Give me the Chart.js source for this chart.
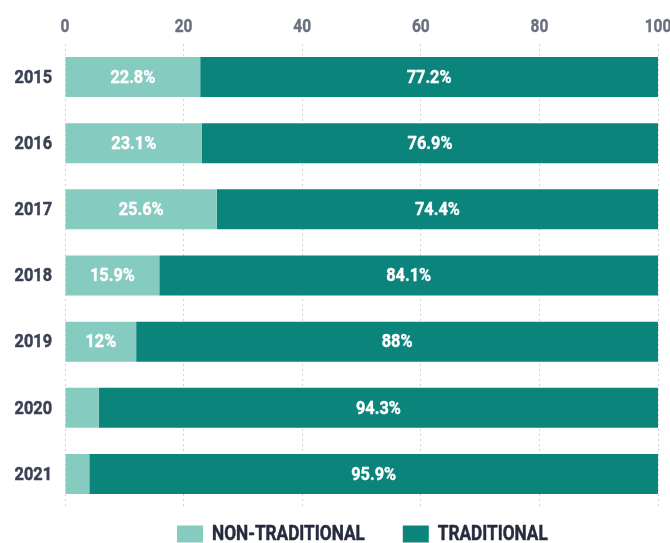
<!DOCTYPE html>
<html>
<head>
<meta charset="utf-8">
<script src="https://cdn.jsdelivr.net/npm/chart.js@4/dist/chart.umd.min.js"></script>
<style>
html,body{margin:0;padding:0;background:#fff;}
#wrap{width:670px;height:543px;position:relative;}
</style>
</head>
<body>
<div id="wrap"><canvas id="c" width="670" height="543"></canvas></div>
<script>
const years = ['2015','2016','2017','2018','2019','2020','2021'];
const nonTraditional = [22.8, 23.1, 25.6, 15.9, 12.0, 5.7, 4.1];
const traditional = [77.2, 76.9, 74.4, 84.1, 88.0, 94.3, 95.9];
const xTicks = [0, 20, 40, 60, 80, 100];
const seriesNames = ['NON-TRADITIONAL', 'TRADITIONAL'];
const seriesColors = ['#86cbbf', '#0b857c'];

const FONT = 'Roboto, "DejaVu Sans", sans-serif';
const SX = 0.86; // horizontal condensing of text

function condensedText(ctx, txt, x, y, align, font, color, heavy) {
  ctx.save();
  ctx.font = font;
  ctx.fillStyle = color;
  ctx.textBaseline = 'middle';
  ctx.textAlign = align;
  ctx.translate(x, y);
  ctx.scale(SX, 1);
  ctx.fillText(txt, 0, 0);
  if (heavy) {
    ctx.strokeStyle = color;
    ctx.lineWidth = heavy;
    ctx.lineJoin = 'round';
    ctx.strokeText(txt, 0, 0);
  }
  ctx.restore();
}
function textWidth(ctx, txt, font) {
  ctx.save(); ctx.font = font; const w = ctx.measureText(txt).width * SX; ctx.restore(); return w;
}

const textPlugin = {
  id: 'texts',
  afterDatasetsDraw(chart) {
    const ctx = chart.ctx;
    const xs = chart.scales.x, ys = chart.scales.y;
    xTicks.forEach(v => {
      condensedText(ctx, String(v), xs.getPixelForValue(v), 27, 'center', 'bold 18px ' + FONT, '#6a7080', 0.4);
    });
    years.forEach((y, i) => {
      condensedText(ctx, y, 52, ys.getPixelForValue(i) + 1, 'right', 'bold 19px ' + FONT, '#3b4254', 0.5);
    });
    chart.data.datasets.forEach((ds, di) => {
      const meta = chart.getDatasetMeta(di);
      meta.data.forEach((el, i) => {
        const v = ds.data[i];
        if (v < 10) return;
        const p = el.getProps(['x', 'y', 'base'], true);
        const cx = (p.x + p.base) / 2;
        const txt = (Math.round(v * 10) % 10 === 0 ? String(Math.round(v)) : v.toFixed(1)) + '%';
        condensedText(ctx, txt, cx, p.y + 1, 'center', 'bold 19px ' + FONT, '#ffffff', 0.4);
      });
    });
    const lf = 'bold 20px ' + FONT;
    const boxW = 26, boxH = 17, gapBox = 9, gapItem = 38;
    let lx = 177;
    const ly = 534;
    seriesNames.forEach((n, i) => {
      ctx.save();
      ctx.fillStyle = seriesColors[i];
      ctx.fillRect(lx, ly - boxH / 2, boxW, boxH);
      ctx.restore();
      lx += boxW + gapBox;
      condensedText(ctx, n, lx, ly + 1, 'left', lf, '#262c3e', 0.5);
      lx += textWidth(ctx, n, lf) + gapItem;
    });
  }
};

new Chart(document.getElementById('c'), {
  type: 'bar',
  data: {
    labels: years,
    datasets: [
      { label: seriesNames[0], data: nonTraditional, backgroundColor: seriesColors[0], borderWidth: 0,
        categoryPercentage: 1.0, barPercentage: 0.605 },
      { label: seriesNames[1], data: traditional, backgroundColor: seriesColors[1], borderWidth: 0,
        categoryPercentage: 1.0, barPercentage: 0.605 }
    ]
  },
  options: {
    indexAxis: 'y',
    responsive: false,
    animation: false,
    devicePixelRatio: 1,
    layout: { padding: { left: 0, right: 12, top: 0, bottom: 36 } },
    plugins: {
      legend: { display: false },
      tooltip: { enabled: false },
      title: { display: false }
    },
    scales: {
      x: {
        position: 'top',
        stacked: true,
        min: 0, max: 100,
        afterBuildTicks(scale) { scale.ticks = xTicks.map(v => ({ value: v })); },
        afterFit(scale) { scale.height = 44; },
        ticks: { display: false },
        grid: { color: '#cfd2d6', lineWidth: 1, drawTicks: false },
        border: { display: false, dash: [2, 3] }
      },
      y: {
        stacked: true,
        grid: { display: false },
        border: { display: false },
        afterFit(scale) { scale.width = 65; },
        ticks: { display: false }
      }
    }
  },
  plugins: [textPlugin]
});
</script>
</body>
</html>
